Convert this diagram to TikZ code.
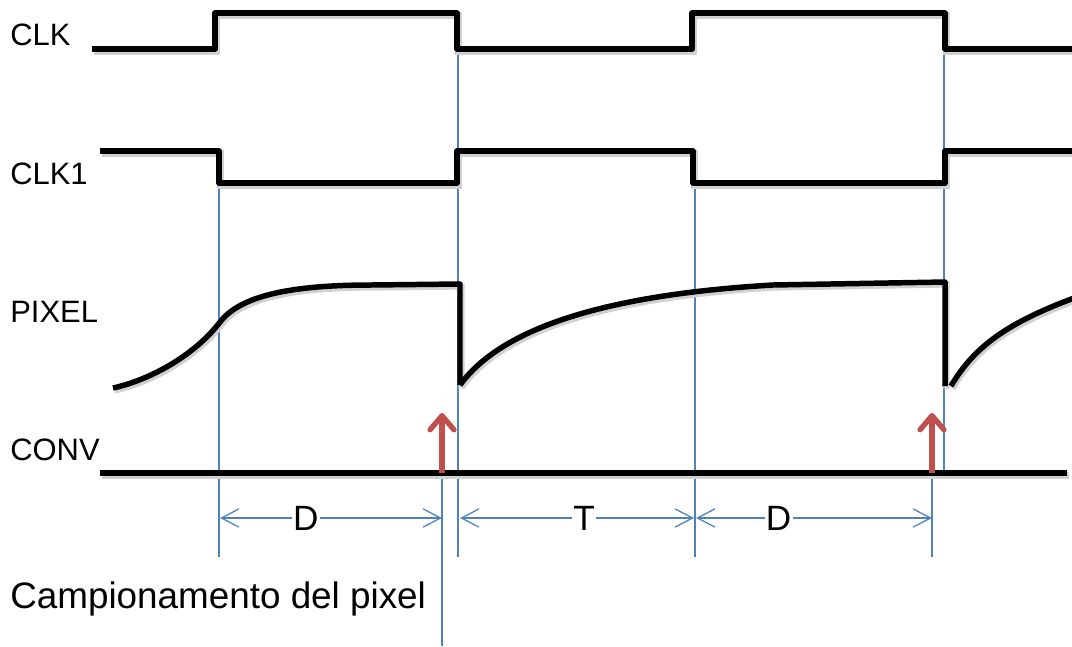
\documentclass[tikz,border=0pt]{standalone}
\usepackage{fontspec}
\setmainfont{Liberation Sans}
\usetikzlibrary{arrows.meta}
\definecolor{xguide}{RGB}{79,129,189}
\definecolor{xsample}{RGB}{192,80,77}

\begin{document}
\begin{tikzpicture}[
  x=0.025cm, y=-0.025cm,
  wave/.style={draw=black, line width=3.9pt, line join=round,
               preaction={draw=black!18, line width=4.4pt,
                          transform canvas={shift={(1.5,2.5)}}}},
  guide/.style={draw=xguide, line width=0.9pt},
  dim/.style={guide, {Straight Barb[length=12.5pt,width=13pt]}-{Straight Barb[length=12.5pt,width=13pt]}},
  sample/.style={draw=xsample, line width=3.8pt,
                 -{Straight Barb[round,length=10pt,width=17pt]}},
  sig/.style={anchor=base west, inner sep=0pt, font=\fontsize{22}{26}\selectfont},
  dimlbl/.style={fill=white, inner sep=1pt, font=\fontsize{25}{29}\selectfont}
]
  \useasboundingbox (0,0) rectangle (1072,646);

  % signal names
  \node[sig] (clk)   at (10,45)  {CLK};
  \node[sig] (clk1)  at (10,184) {CLK1};
  \node[sig] (pixel) at (10,322) {PIXEL};
  \node[sig] (conv)  at (10,460) {CONV};
  \node[sig, font=\fontsize{26.2}{31}\selectfont] (camp) at (10,608) {Campionamento del pixel};

  % guide lines
  \draw[guide] (219,183) -- (219,557);
  \draw[guide] (458,49)  -- (458,557);
  \draw[guide] (695,183) -- (695,557);
  \draw[guide] (944,49)  -- (944,473);
  \draw[guide] (442,473) -- (442,646);
  \draw[guide] (932,473) -- (932,557);

  % waveforms
  \draw[wave] (92,49) -- (215,49) -- (215,13) -- (457,13) -- (457,49)
              -- (692,49) -- (692,13) -- (945,13) -- (945,49) -- (1072,49);
  \draw[wave] (100,151) -- (219,151) -- (219,183) -- (457,183) -- (457,151)
              -- (693,151) -- (693,183) -- (945,183) -- (945,151) -- (1072,151);
  \draw[wave] (113,388) .. controls (150,380) and (195,355) .. (220,322)
              .. controls (238,299) and (280,285) .. (371,285)
              -- (460,284) -- (460,385);
  \draw[wave] (460,385) .. controls (500,330) and (600,295) .. (773,285)
              -- (945,282) -- (945,386);
  \draw[wave] (951,386) .. controls (975,345) and (1010,322) .. (1074,298);
  \draw[wave] (100,473) -- (1067,473);

  % sampling instants
  \coordinate (s1) at (442,473);
  \coordinate (s1tip) at (442,413);
  \coordinate (s2) at (932,473);
  \coordinate (s2tip) at (932,413);
  \draw[sample] (s1) -- (s1tip);
  \draw[sample] (s2) -- (s2tip);

  % intervals
  \coordinate (d1a) at (220,518);
  \coordinate (d1b) at (442,518);
  \coordinate (t1a) at (460,518);
  \coordinate (t1b) at (694,518);
  \coordinate (d2a) at (696,518);
  \coordinate (d2b) at (932,518);
  \draw[dim] (d1a) -- node[dimlbl, pos=0.386] (lblD1) {D} (d1b);
  \draw[dim] (t1a) -- node[dimlbl, pos=0.53]  (lblT)  {T} (t1b);
  \draw[dim] (d2a) -- node[dimlbl, pos=0.35]  (lblD2) {D} (d2b);
\end{tikzpicture}
\end{document}
